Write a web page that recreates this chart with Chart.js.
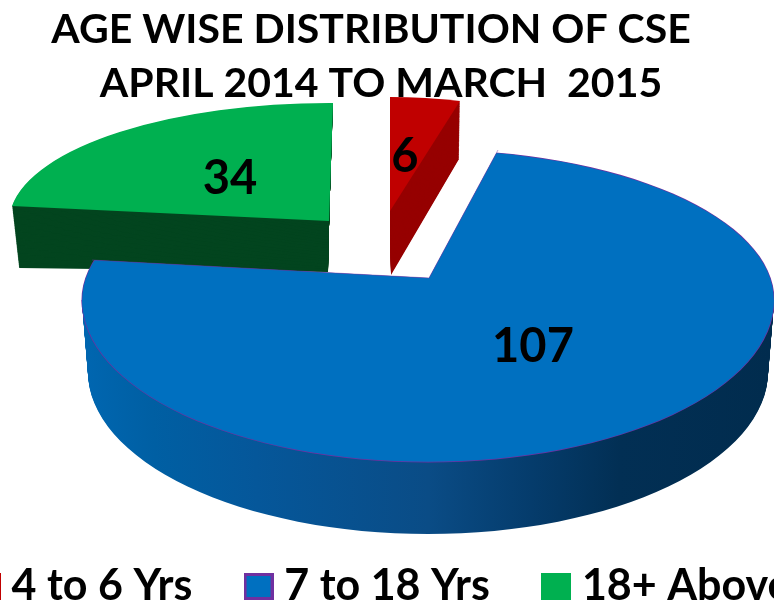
<!DOCTYPE html>
<html>
<head>
<meta charset="utf-8">
<style>
html,body{margin:0;padding:0;background:#fff;width:774px;height:604px;overflow:hidden}
canvas{position:absolute;left:-114px;top:0}
</style>
<script src="https://cdn.jsdelivr.net/npm/chart.js@4"></script>
</head>
<body>
<canvas id="c" width="1000" height="618"></canvas>
<script>
const categories = ["4 to 6 Yrs", "7 to 18 Yrs", "18+ Above"];
const counts = [6, 107, 34];
const titleLines = ["AGE WISE DISTRIBUTION OF CSE   ", "APRIL 2014 TO MARCH  2015 "];
const topColors = ["#C00000", "#0070C0", "#00B050"];
const sideColors = ["#960000", null, "#03451F"];
const swatchBorder = ["#C00000", "#7030A0", "#00B050"];

// page offset of the canvas
const OX = 114;
// projected wedges: apex / start-of-arc / end-of-arc, top face and bottom face
const wedgeLook = {
  0: {top: [[390,211],[390,97],[460,101]], bottom: [[391,275],[390,155],[459,159]]},
  2: {top: [[329,221],[12,206],[333,103]], bottom: [[328,272],[19,268],[330,155]]}
};
// blue: elliptical disc (back half flatter than front half) plus cut apex
const discLook = {cx: 428, cy: 300, a: 346, b: 162, back: 150, cx2: 428, cy2: 372, a2: 340, b2: 162,
                  apex: [429,278], s: [498,150], e: [92,260], depth: 72};
const labelPos = [[405,157],[533,347],[230,179]];

function opts(fill){
  return {backgroundColor: fill, borderColor: fill, borderWidth: 0, borderAlign: 'center',
          borderJoinStyle: 'round', borderRadius: 0, offset: 0, spacing: 0, circular: true,
          selfJoin: false, hoverOffset: 0};
}
function paint(el, fill, full){
  const s = {o: el.options, a: el.startAngle, b: el.endAngle, c: el.circumference};
  el.options = opts(fill);
  if (full){ el.startAngle = 0; el.endAngle = Math.PI*2; el.circumference = Math.PI*2; }
  el.draw(el._ctx);
  el.options = s.o; el.startAngle = s.a; el.endAngle = s.b; el.circumference = s.c;
}
function affine(el, look){
  const [A,S,E] = look.map(p => [p[0]+OX, p[1]]);
  const us = [Math.cos(el.startAngle), Math.sin(el.startAngle)];
  const ue = [Math.cos(el.endAngle), Math.sin(el.endAngle)];
  const det = us[0]*ue[1]-us[1]*ue[0];
  const vs = [S[0]-A[0], S[1]-A[1]], ve = [E[0]-A[0], E[1]-A[1]];
  const px = (vs[0]*ue[1]-ve[0]*us[1])/det, py = (vs[1]*ue[1]-ve[1]*us[1])/det;
  const qx = (ve[0]*us[0]-vs[0]*ue[0])/det, qy = (ve[1]*us[0]-vs[1]*ue[0])/det;
  return [px,py,qx,qy,A[0],A[1]];
}
function apply(ctx, el, m){
  const R = el.outerRadius;
  ctx.transform(m[0]/R, m[1]/R, m[2]/R, m[3]/R, m[4], m[5]);
  ctx.translate(-el.x, -el.y);
}
function drawWedge(ctx, el, i){
  const look = wedgeLook[i];
  const m0 = affine(el, look.top), m1 = affine(el, look.bottom);
  const N = 70;
  for (let k = N; k >= 1; k--){
    const t = k/N, m = m0.map((v,j) => v + (m1[j]-v)*t);
    ctx.save(); apply(ctx, el, m); paint(el, sideColors[i]); ctx.restore();
  }
  ctx.save(); apply(ctx, el, m0); paint(el, topColors[i]); ctx.restore();
}
function notchClip(ctx, dy){
  const d = discLook;
  const A = [d.apex[0]+OX, d.apex[1]+dy];
  const far = p => [A[0]+(p[0]+OX-A[0])*3, A[1]+(p[1]+dy-A[1])*3];
  const S = far(d.s), E = far(d.e);
  ctx.beginPath();
  ctx.rect(-2000,-2000,5000,5000);
  ctx.moveTo(A[0],A[1]); ctx.lineTo(S[0],S[1]); ctx.lineTo(S[0],-1900); ctx.lineTo(E[0],-1900); ctx.lineTo(E[0],E[1]); ctx.closePath();
  ctx.clip('evenodd');
}
function discFace(ctx, el, fill, grow){
  const d = discLook;
  ctx.save();
  apply(ctx, el, [d.a+grow,0,0,d.back+grow,d.cx+OX,d.cy]);
  paint(el, fill, true);
  ctx.restore();
  ctx.save();
  ctx.beginPath(); ctx.rect(-2000, d.cy, 5000, 2000); ctx.clip();
  apply(ctx, el, [d.a+grow,0,0,d.b+grow,d.cx+OX,d.cy]);
  paint(el, fill, true);
  ctx.restore();
}
function drawDisc(ctx, el, i){
  const d = discLook, R = el.outerRadius;
  const grad = ctx.createLinearGradient(el.x-R, 0, el.x+R, 0);
  [[0,"#0066b0"],[0.1,"#005fa3"],[0.25,"#05579a"],[0.5,"#0a4c86"],[0.65,"#053c6c"],[0.78,"#022f54"],[1,"#012c4e"]]
    .forEach(s => grad.addColorStop(s[0], s[1]));
  const N = d.depth;
  ctx.save();
  ctx.beginPath(); ctx.rect(-2000, d.cy, 5000, 2000); ctx.clip();
  for (let k = N; k >= 1; k--){
    const t = k/N;
    ctx.save();
    const a = d.a+(d.a2-d.a)*t, b = d.b+(d.b2-d.b)*t;
    apply(ctx, el, [a,0,0,b,d.cx+OX+(d.cx2-d.cx)*t, d.cy+(d.cy2-d.cy)*t]);
    paint(el, grad, true);
    ctx.restore();
  }
  ctx.restore();
  ctx.save();
  notchClip(ctx, 0);
  discFace(ctx, el, "#7030A0", 0.5);
  discFace(ctx, el, topColors[i], -0.2);
  ctx.restore();
  ctx.strokeStyle = "rgba(112,48,160,0.45)"; ctx.lineWidth = 1;
  ctx.beginPath(); ctx.moveTo(d.s[0]+OX,d.s[1]); ctx.lineTo(d.apex[0]+OX,d.apex[1]); ctx.lineTo(d.e[0]+OX,d.e[1]); ctx.stroke();
}
const pie3d = {
  id: 'pie3d',
  beforeDatasetsDraw(chart){
    const ctx = chart.ctx, arcs = chart.getDatasetMeta(0).data;
    arcs.forEach(el => el._ctx = ctx);
    drawWedge(ctx, arcs[2], 2);
    drawWedge(ctx, arcs[0], 0);
    drawDisc(ctx, arcs[1], 1);
    ctx.save();
    ctx.fillStyle = "#000"; ctx.font = "bold 47px Lato"; ctx.textAlign = "center"; ctx.textBaseline = "middle";
    counts.forEach((v,i) => ctx.fillText(String(v), labelPos[i][0]+OX, labelPos[i][1]));
    ctx.restore();
    return false;
  }
};
function swatch(i){
  const c = document.createElement('canvas'); c.width = 30; c.height = 27;
  const x = c.getContext('2d');
  x.fillStyle = swatchBorder[i]; x.fillRect(0,0,30,27);
  x.fillStyle = topColors[i]; x.fillRect(3,3,24,21);
  return c;
}
new Chart(document.getElementById('c'), {
  type: 'pie',
  data: {labels: categories, datasets: [{data: counts, backgroundColor: topColors, borderWidth: 0}]},
  options: {
    responsive: false, animation: false, rotation: 0,
    layout: {padding: {top: 0, bottom: 0}},
    plugins: {
      tooltip: {enabled: false},
      title: {display: true, text: titleLines, color: '#000',
              font: {family: 'Lato', weight: 'bold', size: 41, lineHeight: 1.317}, padding: {top: 3, bottom: 4}},
      legend: {position: 'bottom', labels: {
        color: '#000', font: {family: 'Lato', weight: 'bold', size: 43},
        padding: 62, usePointStyle: true, pointStyleWidth: 8.5, boxHeight: 27,
        generateLabels: chart => categories.map((t,i) => ({text: t, fillStyle: topColors[i], strokeStyle: swatchBorder[i],
          lineWidth: 0, pointStyle: swatch(i), hidden: false, index: i, fontColor: '#000'}))
      }}
    }
  },
  plugins: [pie3d]
});
</script>
</body>
</html>
